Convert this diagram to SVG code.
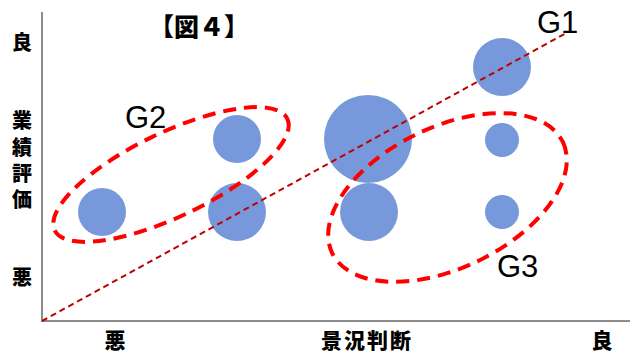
<svg xmlns="http://www.w3.org/2000/svg" width="630" height="354" viewBox="0 0 630 354">
<style>
.jp{font-family:"Noto Sans CJK JP","Noto Sans CJK SC",sans-serif;font-weight:900;font-size:21px;fill:#000;text-anchor:middle}
.v{font-size:20px}
.t{font-size:25px}
.g{font-family:"Liberation Sans",Arial,sans-serif;font-size:31px;fill:#000}
.b{fill:#7799DB}
.grp{fill:none;stroke:#FF0000;stroke-width:4;stroke-dasharray:13 8}
.axis{stroke:#8C8C8C;stroke-width:2;fill:none}
.diag{stroke:#C00000;stroke-width:2;stroke-dasharray:6 4;fill:none}
</style>
<rect width="630" height="354" fill="#fff"/>
<g id="axes">
<line class="axis" x1="42" y1="12" x2="42" y2="322"/>
<line class="axis" x1="41" y1="321" x2="630" y2="321"/>
</g>
<g id="labels">
<text class="jp t" x="199" y="36">【図４】</text>
<text class="jp v" x="22" y="50">良</text>
<text class="jp v" x="22" y="128">業</text>
<text class="jp v" x="22" y="154.5">績</text>
<text class="jp v" x="22" y="180.5">評</text>
<text class="jp v" x="22" y="207">価</text>
<text class="jp v" x="22" y="285">悪</text>
<text class="jp" x="115" y="348">悪</text>
<text class="jp" x="367" y="348" letter-spacing="2">景況判断</text>
<text class="jp" x="602" y="348">良</text>
</g>
<g id="bubbles">
<circle id="b1" class="b" cx="102" cy="212" r="24"/>
<circle id="b2" class="b" cx="237" cy="139" r="24"/>
<circle id="b3" class="b" cx="237" cy="212" r="29"/>
<circle id="b4" class="b" cx="368" cy="139" r="44"/>
<circle id="b5" class="b" cx="369" cy="212" r="29"/>
<circle id="b6" class="b" cx="502" cy="67" r="29"/>
<circle id="b7" class="b" cx="502" cy="140" r="17"/>
<circle id="b8" class="b" cx="502" cy="212" r="17"/>
</g>
<g id="connectors">
<line class="diag" x1="42" y1="321" x2="568" y2="32"/>
</g>
<g id="G2">
<ellipse class="grp" cx="171" cy="174.5" rx="129" ry="42" transform="rotate(-25.6 171 174.5)"/>
<text class="g" x="125" y="128">G2</text>
</g>
<g id="G3">
<ellipse class="grp" cx="447.5" cy="197.5" rx="128" ry="70.5" transform="rotate(-25.7 447.5 197.5)"/>
<text class="g" x="497" y="277">G3</text>
</g>
<g id="G1">
<text class="g" x="537" y="33">G1</text>
</g>
</svg>
